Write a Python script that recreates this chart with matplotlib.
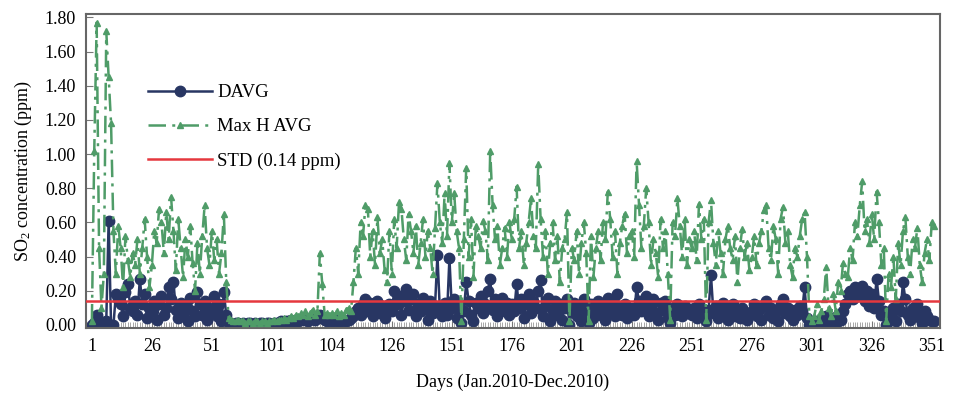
import matplotlib
matplotlib.use('Agg')
import matplotlib.pyplot as plt
from matplotlib.ticker import FixedLocator, MultipleLocator

plt.rcParams['font.family'] = ['Liberation Serif', 'DejaVu Serif']
plt.rcParams['mathtext.fontset'] = 'stix'

# daily SO2, Jan-Dec 2010 (ppm)
davg = [
    0.00, 0.01, 0.06, 0.00, 0.00, 0.00, 0.02, 0.61, 0.00, 0.00, 0.18, 0.15, 0.12, 0.05, 0.19, 0.24, 0.10, 0.08, 0.14, 0.06, 0.27, 0.12, 0.18, 0.04, 0.10,
    0.08, 0.14, 0.03, 0.12, 0.17, 0.06, 0.10, 0.22, 0.15, 0.25, 0.09, 0.04, 0.13, 0.07, 0.11, 0.02, 0.16, 0.08, 0.05, 0.19, 0.12, 0.06, 0.14, 0.03, 0.10,
    0.08, 0.17, 0.05, 0.12, 0.02, 0.19, 0.06, 0.01, 0.01, 0.00, 0.01, 0.01, 0.00, 0.01, 0.00, 0.01, 0.01, 0.00, 0.01, 0.00, 0.01, 0.01, 0.00, 0.01, 0.01,
    0.00, 0.01, 0.01, 0.01, 0.02, 0.01, 0.02, 0.02, 0.03, 0.02, 0.03, 0.02, 0.03, 0.04, 0.03, 0.02, 0.04, 0.05, 0.03, 0.04, 0.06, 0.04, 0.03, 0.02, 0.03,
    0.02, 0.03, 0.02, 0.03, 0.02, 0.03, 0.02, 0.03, 0.04, 0.05, 0.08, 0.10, 0.06, 0.12, 0.15, 0.08, 0.13, 0.05, 0.10, 0.14, 0.07, 0.11, 0.04, 0.09, 0.12,
    0.08, 0.20, 0.12, 0.17, 0.06, 0.14, 0.21, 0.09, 0.15, 0.18, 0.05, 0.12, 0.08, 0.16, 0.10, 0.03, 0.14, 0.07, 0.11, 0.41, 0.09, 0.05, 0.13, 0.06, 0.39,
    0.10, 0.15, 0.04, 0.12, 0.01, 0.08, 0.25, 0.14, 0.06, 0.02, 0.13, 0.10, 0.17, 0.07, 0.12, 0.20, 0.27, 0.09, 0.15, 0.05, 0.11, 0.16, 0.08, 0.13, 0.06,
    0.12, 0.08, 0.24, 0.10, 0.15, 0.04, 0.12, 0.18, 0.07, 0.14, 0.10, 0.20, 0.26, 0.05, 0.11, 0.16, 0.02, 0.09, 0.14, 0.06, 0.12, 0.03, 0.10, 0.15, 0.00,
    0.08, 0.13, 0.05, 0.10, 0.02, 0.15, 0.07, 0.01, 0.12, 0.04, 0.09, 0.14, 0.06, 0.11, 0.03, 0.16, 0.08, 0.13, 0.05, 0.18, 0.10, 0.06, 0.12, 0.04, 0.09,
    0.10, 0.06, 0.22, 0.14, 0.08, 0.12, 0.17, 0.05, 0.11, 0.15, 0.07, 0.03, 0.13, 0.09, 0.14, 0.04, 0.01, 0.10, 0.06, 0.12, 0.08, 0.05, 0.11, 0.07, 0.09,
    0.06, 0.10, 0.04, 0.12, 0.08, 0.05, 0.02, 0.09, 0.29, 0.07, 0.11, 0.04, 0.08, 0.13, 0.06, 0.03, 0.09, 0.12, 0.05, 0.08, 0.04, 0.10, 0.07, 0.03, 0.06,
    0.08, 0.12, 0.05, 0.09, 0.03, 0.11, 0.14, 0.06, 0.10, 0.04, 0.08, 0.02, 0.12, 0.15, 0.07, 0.10, 0.05, 0.03, 0.09, 0.06, 0.11, 0.08, 0.22, 0.04, 0.00,
    0.00, 0.01, 0.02, 0.00, 0.01, 0.03, 0.05, 0.02, 0.00, 0.04, 0.01, 0.06, 0.03, 0.08, 0.12, 0.18, 0.20, 0.15, 0.22, 0.17, 0.19, 0.23, 0.14, 0.20, 0.11,
    0.18, 0.10, 0.27, 0.14, 0.06, 0.08, 0.00, 0.05, 0.03, 0.10, 0.02, 0.12, 0.08, 0.25, 0.15, 0.06, 0.03, 0.10, 0.07, 0.12, 0.04, 0.01, 0.08, 0.05, 0.03, 0.02, 0.02,
]

max_h = [
    0.02, 1.02, 1.77, 0.45, 0.10, 0.30, 1.72, 1.45, 1.18, 0.55, 0.30, 0.58, 0.45, 0.22, 0.52, 0.38, 0.28, 0.42, 0.35, 0.50, 0.30, 0.45, 0.62, 0.40, 0.22,
    0.35, 0.55, 0.48, 0.68, 0.60, 0.42, 0.66, 0.50, 0.75, 0.55, 0.32, 0.62, 0.45, 0.28, 0.50, 0.40, 0.58, 0.36, 0.20, 0.48, 0.30, 0.52, 0.70, 0.45, 0.35,
    0.55, 0.38, 0.50, 0.30, 0.42, 0.65, 0.25, 0.04, 0.03, 0.02, 0.02, 0.03, 0.02, 0.02, 0.01, 0.02, 0.02, 0.01, 0.02, 0.02, 0.01, 0.02, 0.02, 0.01, 0.02,
    0.02, 0.03, 0.02, 0.03, 0.03, 0.04, 0.03, 0.04, 0.05, 0.04, 0.06, 0.05, 0.07, 0.06, 0.08, 0.05, 0.07, 0.09, 0.06, 0.08, 0.42, 0.24, 0.06, 0.07, 0.06,
    0.07, 0.06, 0.08, 0.05, 0.07, 0.06, 0.09, 0.10, 0.08, 0.25, 0.45, 0.30, 0.60, 0.52, 0.70, 0.68, 0.40, 0.55, 0.35, 0.63, 0.42, 0.50, 0.32, 0.25, 0.55,
    0.30, 0.62, 0.45, 0.72, 0.68, 0.50, 0.38, 0.65, 0.55, 0.42, 0.58, 0.35, 0.48, 0.62, 0.40, 0.55, 0.45, 0.30, 0.57, 0.83, 0.60, 0.48, 0.77, 0.52, 0.95,
    0.60, 0.77, 0.55, 0.45, 0.02, 0.50, 0.92, 0.40, 0.62, 0.28, 0.58, 0.52, 0.45, 0.61, 0.55, 0.38, 1.02, 0.70, 0.50, 0.58, 0.35, 0.45, 0.57, 0.40, 0.60,
    0.50, 0.62, 0.81, 0.45, 0.55, 0.35, 0.48, 0.60, 0.74, 0.52, 0.45, 0.94, 0.62, 0.40, 0.55, 0.30, 0.48, 0.60, 0.38, 0.52, 0.25, 0.45, 0.50, 0.66, 0.02,
    0.45, 0.38, 0.55, 0.30, 0.48, 0.60, 0.42, 0.02, 0.52, 0.28, 0.45, 0.55, 0.38, 0.60, 0.50, 0.78, 0.62, 0.40, 0.55, 0.30, 0.48, 0.58, 0.65, 0.42, 0.52,
    0.55, 0.40, 0.96, 0.70, 0.45, 0.58, 0.80, 0.60, 0.35, 0.50, 0.42, 0.28, 0.62, 0.45, 0.55, 0.30, 0.03, 0.60, 0.52, 0.74, 0.58, 0.40, 0.62, 0.35, 0.50,
    0.45, 0.55, 0.38, 0.71, 0.50, 0.62, 0.03, 0.60, 0.73, 0.48, 0.35, 0.55, 0.42, 0.30, 0.50, 0.58, 0.45, 0.38, 0.52, 0.25, 0.45, 0.56, 0.40, 0.48, 0.32,
    0.40, 0.52, 0.35, 0.48, 0.55, 0.67, 0.70, 0.45, 0.38, 0.58, 0.50, 0.30, 0.62, 0.69, 0.48, 0.55, 0.35, 0.28, 0.45, 0.40, 0.52, 0.62, 0.66, 0.40, 0.05,
    0.02, 0.05, 0.12, 0.03, 0.08, 0.15, 0.34, 0.10, 0.05, 0.18, 0.08, 0.25, 0.20, 0.36, 0.30, 0.28, 0.45, 0.38, 0.60, 0.52, 0.70, 0.84, 0.55, 0.62, 0.48,
    0.65, 0.50, 0.78, 0.60, 0.35, 0.45, 0.02, 0.30, 0.22, 0.40, 0.15, 0.48, 0.35, 0.55, 0.63, 0.40, 0.30, 0.50, 0.45, 0.57, 0.35, 0.25, 0.42, 0.50, 0.38, 0.60, 0.58,
]

std_limit = 0.14
day_ticks = [1, 26, 51, 76, 101, 126, 151, 176, 201, 226, 251, 276, 301, 326, 351]
day_labels = ['1', '26', '51', '101', '104', '126', '151', '176', '201', '226',
              '251', '276', '301', '326', '351']
y_ticks = [0.0, 0.2, 0.4, 0.6, 0.8, 1.0, 1.2, 1.4, 1.6, 1.8]

days = list(range(1, len(davg) + 1))

fig = plt.figure(figsize=(9.54, 3.99), dpi=100)
ax = fig.add_axes([0.090, 0.178, 0.895, 0.787])

ax.plot(days, davg, '-', color='#283663', lw=1.8, marker='o', ms=7.5,
        label='DAVG', zorder=2)
ax.plot(days, max_h, color='#4f9c68', lw=1.8, dashes=(7, 2.5, 1.2, 2.5),
        marker='^', ms=4, label='Max H AVG', zorder=3)
ax.axhline(std_limit, color='#e5383e', lw=1.8, label='STD (0.14 ppm)', zorder=4)

ax.set_xlim(-1.5, 354.3)
ax.set_ylim(-0.018, 1.82)
ax.xaxis.set_major_locator(FixedLocator(day_ticks))
ax.set_xticklabels(day_labels)
ax.xaxis.set_minor_locator(MultipleLocator(1))
ax.set_yticks(y_ticks)
ax.set_yticklabels(['%.2f' % v for v in y_ticks])

ax.tick_params(axis='both', which='major', direction='in', length=5,
               color='#777777', labelsize=13, pad=7)
ax.tick_params(axis='x', which='minor', direction='in', length=4,
               color='#999999', width=0.6)
for s in ax.spines.values():
    s.set_color('#666666')
    s.set_linewidth(1.5)

ax.set_xlabel('Days (Jan.2010-Dec.2010)', fontsize=13, labelpad=14)
ax.set_ylabel('$\\mathregular{SO_2}$ concentration (ppm)', fontsize=13, labelpad=8)

ax.legend(loc='upper left', bbox_to_anchor=(0.064, 0.80), frameon=False,
          fontsize=13.5, handlelength=3.4, labelspacing=0.9, borderaxespad=0,
          handletextpad=0.3)

plt.savefig('out.png', dpi=100)
